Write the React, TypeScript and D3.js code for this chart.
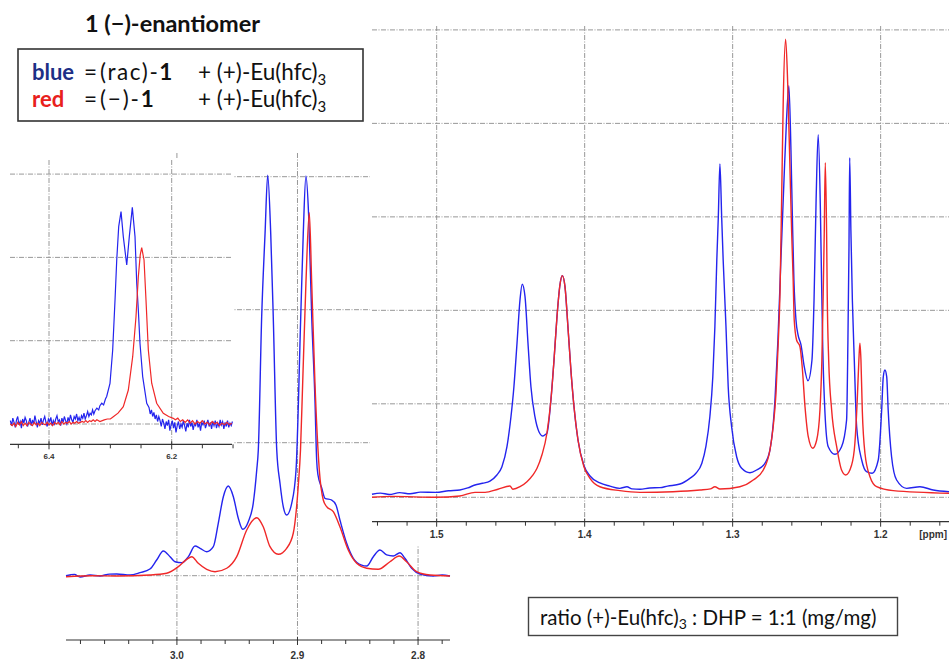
import React, { useEffect, useRef } from "react";
import * as d3 from "d3";

type Pt = [number, number];

// [ppm, intensity in grid units]
const blueRight: Pt[] = [
  [1.5437, 0.032], [1.538, 0.045], [1.532, 0.03], [1.525, 0.05], [1.518, 0.038],
  [1.511, 0.055], [1.5005, 0.053], [1.492, 0.07], [1.4843, 0.078], [1.479, 0.1],
  [1.4741, 0.132], [1.469, 0.15], [1.464, 0.174], [1.4593, 0.239], [1.4559, 0.327],
  [1.4525, 0.541], [1.4498, 0.862], [1.4478, 1.183], [1.4457, 1.651], [1.4437, 2.111],
  [1.4422, 2.279], [1.4403, 2.146], [1.4383, 1.651], [1.4363, 1.183], [1.4336, 0.862],
  [1.4309, 0.702], [1.4282, 0.656], [1.4261, 0.677], [1.4255, 0.685], [1.4228, 1.041],
  [1.4207, 1.469], [1.4187, 1.932], [1.4167, 2.271], [1.4151, 2.371], [1.4133, 2.253],
  [1.4113, 1.825], [1.4093, 1.362], [1.4072, 0.969], [1.4045, 0.613], [1.4005, 0.34],
  [1.3964, 0.228], [1.3897, 0.153], [1.383, 0.12], [1.3762, 0.096], [1.3714, 0.113],
  [1.368, 0.09], [1.3626, 0.086], [1.356, 0.1], [1.3491, 0.103], [1.344, 0.12],
  [1.3356, 0.142], [1.3289, 0.203], [1.3248, 0.257], [1.3208, 0.364], [1.3181, 0.541],
  [1.3154, 0.862], [1.3134, 1.29], [1.312, 1.825], [1.3107, 2.539], [1.3097, 2.991],
  [1.3086, 3.566], [1.3074, 2.991], [1.3064, 2.539], [1.3045, 1.825], [1.303, 1.183],
  [1.3007, 0.755], [1.2973, 0.434], [1.2939, 0.31], [1.2883, 0.263], [1.2838, 0.292],
  [1.2782, 0.364], [1.2748, 0.506], [1.2714, 1.041], [1.2694, 1.683], [1.2674, 2.539],
  [1.2653, 3.395], [1.2636, 4.037], [1.262, 4.404], [1.2606, 3.716], [1.2596, 2.967],
  [1.2586, 2.325], [1.2572, 1.897], [1.2558, 1.737], [1.2538, 1.63], [1.2518, 1.415],
  [1.2491, 1.247], [1.2464, 1.469], [1.245, 2.111], [1.2436, 3.181], [1.2422, 3.879],
  [1.2407, 3.074], [1.2399, 2.3], [1.2391, 1.6], [1.2376, 0.9], [1.2354, 0.541],
  [1.2309, 0.46], [1.2264, 0.541], [1.223, 0.827], [1.2221, 1.683], [1.2214, 2.646],
  [1.2209, 3.633], [1.2201, 2.86], [1.2191, 2.111], [1.2178, 1.469], [1.2162, 0.755],
  [1.2128, 0.399], [1.2095, 0.274], [1.2057, 0.257], [1.2016, 0.399], [1.1993, 0.934],
  [1.1982, 1.29], [1.1971, 1.362], [1.1959, 1.29], [1.1949, 0.934], [1.1926, 0.434],
  [1.1892, 0.185], [1.1824, 0.096], [1.1734, 0.113], [1.1645, 0.078], [1.1538, 0.06],
];

const redRight: Pt[] = [
  [1.5437, 0.0], [1.53, 0.01], [1.5005, 0.0], [1.4843, 0.014], [1.4741, 0.053],
  [1.4673, 0.053], [1.4586, 0.086], [1.4505, 0.121], [1.4485, 0.086], [1.4437, 0.113],
  [1.439, 0.167], [1.4349, 0.239], [1.4322, 0.31], [1.4289, 0.452], [1.4255, 0.685],
  [1.4228, 1.041], [1.4207, 1.469], [1.4187, 1.932], [1.4167, 2.271], [1.4151, 2.371],
  [1.4133, 2.253], [1.4113, 1.825], [1.4093, 1.362], [1.4072, 0.969], [1.4045, 0.613],
  [1.4005, 0.327], [1.3964, 0.203], [1.3897, 0.113], [1.3762, 0.071], [1.3626, 0.053],
  [1.3403, 0.06], [1.3221, 0.078], [1.315, 0.09], [1.312, 0.113], [1.3086, 0.089],
  [1.2951, 0.113], [1.2861, 0.185], [1.2793, 0.292], [1.2748, 0.506], [1.2726, 0.755],
  [1.2707, 1.113], [1.2692, 1.648], [1.268, 2.183], [1.2669, 3.181], [1.2658, 4.251],
  [1.2642, 4.9], [1.2628, 4.429], [1.2613, 3.537], [1.2601, 2.824], [1.2591, 2.325],
  [1.2584, 1.9], [1.2568, 1.683], [1.2545, 1.611], [1.253, 1.397], [1.2511, 0.969],
  [1.2489, 0.648], [1.2459, 0.524], [1.2432, 0.613], [1.241, 0.934], [1.2397, 1.469],
  [1.2388, 2.183], [1.2381, 2.824], [1.2374, 3.58], [1.2365, 2.824], [1.2361, 2.183],
  [1.2351, 1.469], [1.2331, 0.934], [1.2297, 0.541], [1.2264, 0.292], [1.2236, 0.239],
  [1.2196, 0.346], [1.2174, 0.578], [1.2158, 1.041], [1.2147, 1.469], [1.214, 1.648],
  [1.2133, 1.469], [1.2124, 0.934], [1.2106, 0.471], [1.2072, 0.22], [1.2027, 0.113],
  [1.1915, 0.071], [1.1538, 0.043],
];

const blueMid: Pt[] = [
  [3.092, 0], [3.085, 0.01], [3.0803, -0.01], [3.072, 0.005], [3.0638, -0.002],
  [3.056, 0.012], [3.0499, 0.013], [3.0389, 0.005], [3.0306, 0.023], [3.0224, 0.05],
  [3.0168, 0.118], [3.0113, 0.186], [3.0057, 0.143], [3.0016, 0.105], [2.996, 0.098],
  [2.9905, 0.143], [2.985, 0.223], [2.9808, 0.206], [2.9753, 0.18], [2.9698, 0.218],
  [2.9657, 0.394], [2.9615, 0.594], [2.9574, 0.674], [2.9532, 0.594], [2.9491, 0.432],
  [2.9454, 0.349], [2.9408, 0.406], [2.9367, 0.544], [2.9338, 0.795], [2.9325, 0.945],
  [2.9297, 1.947], [2.9269, 2.574], [2.9247, 3.012], [2.9222, 2.574], [2.9201, 1.947],
  [2.9172, 0.945], [2.9145, 0.695], [2.9118, 0.519], [2.909, 0.456], [2.9048, 0.544],
  [2.9012, 0.795], [2.8973, 1.947], [2.8952, 2.574], [2.893, 3.005], [2.8907, 2.699],
  [2.8882, 1.947], [2.8855, 1.32], [2.8841, 0.87], [2.883, 0.757], [2.8799, 0.66],
  [2.8772, 0.582], [2.8716, 0.569], [2.8681, 0.532], [2.8648, 0.419], [2.8592, 0.244],
  [2.8537, 0.131], [2.8468, 0.08], [2.8426, 0.073], [2.8371, 0.143], [2.8316, 0.193],
  [2.826, 0.156], [2.8206, 0.148], [2.815, 0.173], [2.8109, 0.131], [2.8053, 0.056],
  [2.7984, 0.013], [2.7874, -0.002], [2.78, 0.005], [2.7735, -0.002],
];

const redMid: Pt[] = [
  [3.092, -0.008], [3.07, 0.0], [3.0499, -0.002], [3.0224, 0.005], [3.0085, 0.018],
  [2.9988, 0.068], [2.9919, 0.123], [2.9877, 0.143], [2.9823, 0.093], [2.9753, 0.048],
  [2.9684, 0.03], [2.9587, 0.056], [2.9504, 0.143], [2.9421, 0.344], [2.9338, 0.436],
  [2.9284, 0.368], [2.9228, 0.218], [2.9159, 0.161], [2.909, 0.206], [2.9035, 0.319],
  [2.8993, 0.682], [2.8975, 0.945], [2.8957, 1.447], [2.893, 2.198], [2.8902, 2.729],
  [2.8882, 2.198], [2.8855, 1.447], [2.8819, 0.795], [2.8786, 0.569], [2.8758, 0.519],
  [2.8703, 0.481], [2.8648, 0.368], [2.8579, 0.193], [2.8509, 0.093], [2.8426, 0.056],
  [2.833, 0.048], [2.8233, 0.105], [2.8156, 0.148], [2.8095, 0.105], [2.8012, 0.03],
  [2.7901, 0.005], [2.7735, -0.002],
];

const blueInset: Pt[] = [
  [6.463, 0.04], [6.461, -0.02], [6.459, 0.07], [6.457, 0.02], [6.455, -0.04],
  [6.453, 0.05], [6.451, 0.09], [6.449, -0.01], [6.447, 0.03], [6.445, -0.05],
  [6.443, 0.06], [6.441, 0.01], [6.439, 0.08], [6.437, 0.04], [6.435, -0.03],
  [6.433, 0.02], [6.431, 0.07], [6.429, -0.02], [6.427, 0.05], [6.425, 0.0],
  [6.423, 0.1], [6.421, 0.03], [6.419, -0.04], [6.417, 0.04], [6.415, 0.01],
  [6.413, 0.07], [6.411, -0.01], [6.409, 0.05], [6.407, 0.09], [6.405, 0.02],
  [6.403, -0.03], [6.401, 0.06], [6.399, 0.03], [6.397, 0.08], [6.395, -0.02],
  [6.393, 0.04], [6.391, 0.0], [6.389, 0.06], [6.387, 0.1], [6.385, 0.03],
  [6.383, 0.05], [6.381, -0.02], [6.379, 0.07], [6.377, 0.02], [6.375, 0.09],
  [6.373, 0.04], [6.371, 0.0], [6.369, 0.08], [6.367, 0.03], [6.365, 0.11],
  [6.363, 0.05], [6.361, 0.02], [6.359, 0.09], [6.357, 0.06], [6.355, 0.12],
  [6.353, 0.04], [6.351, 0.08], [6.349, 0.03], [6.347, 0.1], [6.345, 0.07],
  [6.343, 0.13], [6.341, 0.06], [6.339, 0.1], [6.337, 0.15], [6.335, 0.09],
  [6.333, 0.13], [6.331, 0.11], [6.329, 0.17], [6.327, 0.12], [6.325, 0.16],
  [6.322, 0.19], [6.319, 0.17], [6.317, 0.22], [6.314, 0.25], [6.311, 0.23],
  [6.308, 0.3], [6.306, 0.33],
  [6.3006, 0.488], [6.2962, 0.888], [6.2924, 1.489], [6.2896, 1.969], [6.2864, 2.369],
  [6.2826, 2.549], [6.2789, 2.249], [6.2733, 1.909], [6.2691, 2.249], [6.2642, 2.601],
  [6.2598, 2.249], [6.257, 1.689], [6.2544, 1.369], [6.2517, 0.969], [6.2473, 0.569],
  [6.2407, 0.249], [6.237, 0.2], [6.235, 0.12], [6.233, 0.17], [6.231, 0.09],
  [6.229, 0.14], [6.227, 0.06], [6.225, 0.11], [6.223, 0.03], [6.221, 0.09],
  [6.219, 0.04], [6.217, -0.03], [6.215, 0.06], [6.213, 0.01], [6.211, -0.06],
  [6.209, 0.03], [6.207, -0.02], [6.205, 0.05], [6.203, -0.08], [6.201, -0.01],
  [6.199, 0.04], [6.197, -0.05], [6.195, 0.02], [6.193, -0.1], [6.191, -0.02],
  [6.189, 0.03], [6.187, -0.06], [6.185, 0.0], [6.183, -0.04], [6.181, 0.04],
  [6.179, -0.02], [6.177, -0.09], [6.175, 0.01], [6.173, -0.04], [6.171, 0.05],
  [6.169, -0.03], [6.167, 0.02], [6.165, -0.07], [6.163, 0.0], [6.161, -0.02],
  [6.159, 0.05], [6.157, -0.04], [6.155, 0.01], [6.153, -0.08], [6.151, 0.02],
  [6.149, -0.01], [6.147, 0.04], [6.145, -0.05], [6.143, 0.0], [6.141, 0.05],
  [6.139, -0.03], [6.137, 0.02], [6.135, -0.06], [6.133, 0.03], [6.131, -0.02],
  [6.129, 0.04], [6.127, -0.05], [6.125, 0.01], [6.123, -0.03], [6.121, 0.05],
  [6.119, -0.01], [6.117, 0.03], [6.115, -0.06], [6.113, 0.02], [6.111, -0.03],
  [6.109, 0.04], [6.107, -0.04], [6.105, 0.01], [6.103, -0.02], [6.101, 0.03],
];

const redInset: Pt[] = [
  [6.463, 0.0], [6.46, -0.02], [6.457, 0.01], [6.454, -0.03], [6.451, 0.02],
  [6.448, -0.01], [6.445, 0.03], [6.442, -0.02], [6.439, 0.01], [6.436, -0.02],
  [6.433, 0.02], [6.43, 0.0], [6.427, -0.02], [6.424, 0.02], [6.421, -0.01],
  [6.418, 0.01], [6.415, -0.02], [6.412, 0.02], [6.409, 0.0], [6.406, -0.01],
  [6.403, 0.02], [6.4, -0.01], [6.397, 0.01], [6.394, -0.02], [6.391, 0.02],
  [6.388, 0.0], [6.385, 0.02], [6.382, -0.01], [6.379, 0.03], [6.376, 0.0],
  [6.373, 0.02], [6.37, 0.01], [6.367, 0.03], [6.364, 0.0], [6.361, 0.02],
  [6.358, 0.01], [6.355, 0.03], [6.352, 0.01], [6.349, 0.02], [6.346, 0.03],
  [6.343, 0.02], [6.34, 0.04], [6.337, 0.02], [6.334, 0.04], [6.331, 0.03],
  [6.328, 0.05], [6.325, 0.03], [6.322, 0.05], [6.317, 0.03],
  [6.31, 0.05], [6.305, 0.06], [6.3, 0.06], [6.2952, 0.088], [6.2875, 0.13],
  [6.2789, 0.208], [6.2707, 0.408], [6.2636, 0.808], [6.2582, 1.288], [6.2544, 1.768],
  [6.2513, 2.03], [6.2489, 2.116], [6.2451, 1.969], [6.2419, 1.489], [6.2381, 0.888],
  [6.2326, 0.489], [6.2245, 0.249], [6.2137, 0.128], [6.205, 0.09], [6.1974, 0.068],
  [6.194, 0.05], [6.19, 0.07], [6.186, 0.03], [6.182, 0.05], [6.178, 0.02],
  [6.174, 0.05], [6.17, 0.01], [6.166, 0.04], [6.162, 0.0], [6.158, 0.03],
  [6.154, 0.01], [6.15, 0.04], [6.146, 0.0], [6.142, 0.02], [6.138, -0.01],
  [6.134, 0.03], [6.13, 0.0], [6.126, 0.02], [6.122, -0.02], [6.118, 0.01],
  [6.114, -0.01], [6.11, 0.02], [6.106, -0.01], [6.102, 0.01],
];

const rightMajor = [1.5, 1.4, 1.3, 1.2];
const rightMinor = [1.54, 1.52, 1.48, 1.46, 1.44, 1.42, 1.38, 1.36, 1.34, 1.32, 1.28, 1.26, 1.24, 1.22, 1.18, 1.16];
const midMajor = [3.0, 2.9, 2.8];
const midMinor = [3.08, 3.06, 3.04, 3.02, 2.98, 2.96, 2.94, 2.92, 2.88, 2.86, 2.84, 2.82, 2.78];
const insetMajor = [6.4, 6.2];
const insetMinor = [6.45, 6.35, 6.3, 6.25, 6.15, 6.1];

const BLUE = "#2424ee";
const RED = "#f02828";
const GRID = "#8c8c8c";

type PanelCfg = {
  xDomain: [number, number];
  xRange: [number, number];
  yMax: number;
  yRange: [number, number];
  gridTop: number;
  axisY: number;
  major: number[];
  minor: number[];
  fontSize: number;
  labelDy: number;
  bg?: [number, number, number, number];
  blue: Pt[];
  red: Pt[];
  curve: d3.CurveFactory;
  width: number;
  unit?: boolean;
};

function drawPanel(root: d3.Selection<SVGGElement, unknown, null, undefined>, cfg: PanelCfg) {
  const g = root.append("g");
  if (cfg.bg) {
    const [bx, by, bw, bh] = cfg.bg;
    g.append("rect").attr("x", bx).attr("y", by).attr("width", bw).attr("height", bh).attr("fill", "#fff");
  }
  const x = d3.scaleLinear().domain(cfg.xDomain).range(cfg.xRange);
  const y = d3.scaleLinear().domain([0, cfg.yMax]).range(cfg.yRange);
  const [xl, xr] = cfg.xRange;

  // dash-dot grid
  g.selectAll(".hgrid")
    .data(d3.range(0, cfg.yMax + 1))
    .enter()
    .append("line")
    .attr("x1", xl)
    .attr("x2", xr)
    .attr("y1", (d) => y(d))
    .attr("y2", (d) => y(d))
    .attr("stroke", GRID)
    .attr("stroke-width", 0.9)
    .attr("stroke-dasharray", "5,1.5,1,1.5");
  g.selectAll(".vgrid")
    .data(cfg.major)
    .enter()
    .append("line")
    .attr("x1", (d) => x(d))
    .attr("x2", (d) => x(d))
    .attr("y1", cfg.gridTop)
    .attr("y2", cfg.axisY)
    .attr("stroke", GRID)
    .attr("stroke-width", 0.9)
    .attr("stroke-dasharray", "5,1.5,1,1.5");

  // axis
  g.append("line")
    .attr("x1", xl)
    .attr("x2", xr)
    .attr("y1", cfg.axisY)
    .attr("y2", cfg.axisY)
    .attr("stroke", "#333")
    .attr("stroke-width", 1.2);
  g.selectAll(".minor")
    .data(cfg.minor)
    .enter()
    .append("line")
    .attr("x1", (d) => x(d))
    .attr("x2", (d) => x(d))
    .attr("y1", cfg.axisY)
    .attr("y2", cfg.axisY + 4)
    .attr("stroke", "#333")
    .attr("stroke-width", 1);
  g.selectAll(".major")
    .data(cfg.major)
    .enter()
    .append("line")
    .attr("x1", (d) => x(d))
    .attr("x2", (d) => x(d))
    .attr("y1", cfg.axisY - 3)
    .attr("y2", cfg.axisY + 5)
    .attr("stroke", "#333")
    .attr("stroke-width", 1);
  g.selectAll(".lbl")
    .data(cfg.major)
    .enter()
    .append("text")
    .attr("x", (d) => x(d))
    .attr("y", cfg.axisY + cfg.labelDy)
    .attr("text-anchor", "middle")
    .style("font-family", "'Liberation Sans', Arial, sans-serif")
    .style("font-size", cfg.fontSize + "px")
    .style("font-weight", "bold")
    .attr("fill", "#333")
    .text((d) => d.toFixed(1));
  if (cfg.unit) {
    g.append("text")
      .attr("x", 947)
      .attr("y", cfg.axisY + cfg.labelDy)
      .attr("text-anchor", "end")
      .style("font-family", "'Liberation Sans', Arial, sans-serif")
      .style("font-size", cfg.fontSize + "px")
      .style("font-weight", "bold")
      .attr("fill", "#333")
      .text("[ppm]");
  }

  const line = d3
    .line<Pt>()
    .x((d) => x(d[0]))
    .y((d) => y(d[1]))
    .curve(cfg.curve);
  g.append("path").datum(cfg.blue).attr("fill", "none").attr("stroke", BLUE).attr("stroke-width", cfg.width).attr("d", line);
  g.append("path").datum(cfg.red).attr("fill", "none").attr("stroke", RED).attr("stroke-width", cfg.width).attr("d", line);
}

const App = () => {
  const ref = useRef<SVGGElement>(null);

  useEffect(() => {
    const root = d3.select(ref.current as SVGGElement);
    root.selectAll("*").remove();

    drawPanel(root, {
      xDomain: [3.092, 2.7735],
      xRange: [66, 450],
      yMax: 3,
      yRange: [575.7, 176.7],
      gridTop: 153,
      axisY: 640,
      major: midMajor,
      minor: midMinor,
      fontSize: 10,
      labelDy: 19,
      blue: blueMid,
      red: redMid,
      curve: d3.curveMonotoneX,
      width: 1.4,
    });

    drawPanel(root, {
      xDomain: [1.5437, 1.1538],
      xRange: [372, 949],
      yMax: 5,
      yRange: [497.3, 29.9],
      gridTop: 26,
      axisY: 521.7,
      major: rightMajor,
      minor: rightMinor,
      fontSize: 10,
      labelDy: 16,
      bg: [370, 0, 579, 545],
      blue: blueRight,
      red: redRight,
      curve: d3.curveMonotoneX,
      width: 1.4,
      unit: true,
    });

    drawPanel(root, {
      xDomain: [6.4636, 6.1017],
      xRange: [10, 232],
      yMax: 3,
      yRange: [424, 174.1],
      gridTop: 160,
      axisY: 444.3,
      major: insetMajor,
      minor: insetMinor,
      fontSize: 8,
      labelDy: 15,
      bg: [0, 158, 234, 310],
      blue: blueInset,
      red: redInset,
      curve: d3.curveLinear,
      width: 1.2,
    });
  }, []);

  const font = "Lato, 'Open Sans', sans-serif";
  return (
    <svg
      width={949}
      height={660}
      style={{ position: "absolute", left: 0, top: 0, background: "#fff" }}
    >
      <g ref={ref} />
      <g style={{ fontFamily: font }} fill="#111">
        <text x={85} y={31.5} fontSize={23.5} fontWeight="bold">
          1 (−)-enantiomer
        </text>
        <rect x={18} y={49} width={345} height={72} fill="#fff" stroke="#333" strokeWidth={1.6} />
        <text x={32} y={80} fontSize={22} fontWeight="bold" fill="#1d2f86">blue</text>
        <text x={84} y={80} fontSize={22.5}>=</text>
        <text x={100} y={80} fontSize={22.5} letterSpacing={1.6}>
          (rac)-<tspan fontWeight="bold">1</tspan>
        </text>
        <text x={198} y={80} fontSize={22.5}>
          + (+)-Eu(hfc)<tspan fontSize={15} dy={5}>3</tspan>
        </text>
        <text x={32} y={106.5} fontSize={22} fontWeight="bold" fill="#e8201c">red</text>
        <text x={84} y={106.5} fontSize={22.5}>=</text>
        <text x={100} y={106.5} fontSize={22.5} letterSpacing={1.8}>
          (−)-<tspan fontWeight="bold">1</tspan>
        </text>
        <text x={198} y={106.5} fontSize={22.5}>
          + (+)-Eu(hfc)<tspan fontSize={15} dy={5}>3</tspan>
        </text>
        <rect x={528.5} y={597.5} width={369} height={38} fill="#fff" stroke="#444" strokeWidth={1.4} />
        <text x={540} y={625} fontSize={20.5}>
          ratio (+)-Eu(hfc)<tspan fontSize={14} dy={4}>3</tspan>
          <tspan dy={-4}> : DHP = 1:1 (mg/mg)</tspan>
        </text>
      </g>
    </svg>
  );
};

export default App;
